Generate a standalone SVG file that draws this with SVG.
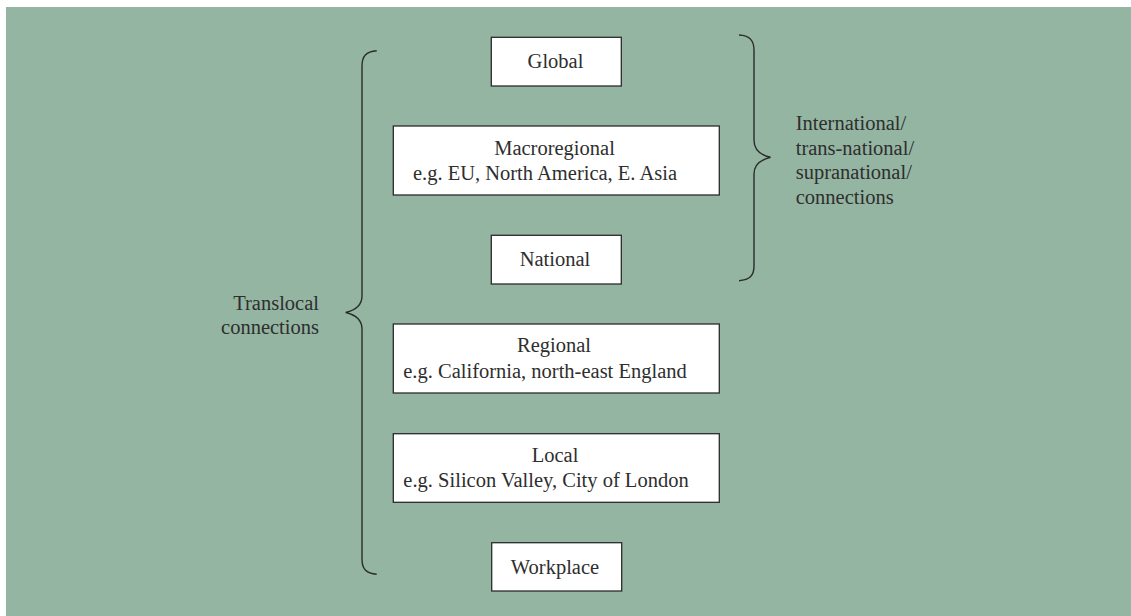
<svg xmlns="http://www.w3.org/2000/svg" width="1131" height="616" viewBox="0 0 1131 616">
<style>
.box{fill:#ffffff;stroke:#2b2b2b;stroke-width:1.3}
.t{font-family:"Liberation Serif","Times New Roman",serif;font-size:20.5px;fill:#2e2e2e}
.c{text-anchor:middle}
.brace{fill:none;stroke:#2b2b2b;stroke-width:1.4}
</style>
<rect x="0" y="0" width="1131" height="616" fill="#ffffff"/>
<rect x="6" y="7" width="1125" height="609" fill="#94b5a2"/>
<g id="connectors">
<path class="brace" d="M376.7,50.7 C366,51.5 362,56 362,66 L362,296 C362,305 356,310 345.7,312.5 C356,315 362,320 362,329 L362,559 C362,569 366,573.5 376.7,574.3"/>
<path class="brace" d="M739,35 C749.5,35.5 754,40 754,50 L754,140 C754,149 760,155 770.5,157.3 C760,160 754,165 754,174 L754,266 C754,276 749.5,280 739,280.7"/>
</g>
<g id="global">
<rect class="box" x="491.3" y="37.3" width="130" height="48.7"/>
<text class="t c" x="555.5" y="68">Global</text>
</g>
<g id="macroregional">
<rect class="box" x="393.3" y="126" width="326" height="69"/>
<text class="t c" x="554.5" y="155">Macroregional</text>
<text class="t c" x="545" y="179.5">e.g. EU, North America, E. Asia</text>
</g>
<g id="national">
<rect class="box" x="491.3" y="235.3" width="130" height="48.7"/>
<text class="t c" x="555" y="266">National</text>
</g>
<g id="regional">
<rect class="box" x="393.3" y="324" width="326" height="69"/>
<text class="t c" x="554" y="352.3">Regional</text>
<text class="t c" x="545" y="377.7">e.g. California, north-east England</text>
</g>
<g id="local">
<rect class="box" x="393.3" y="433.7" width="326" height="68.6"/>
<text class="t c" x="555" y="461.7">Local</text>
<text class="t c" x="546" y="486.7">e.g. Silicon Valley, City of London</text>
</g>
<g id="workplace">
<rect class="box" x="491.7" y="542.7" width="130" height="48.3"/>
<text class="t c" x="555" y="574.3">Workplace</text>
</g>
<g id="translocal-label">
<text class="t" x="319" y="310" text-anchor="end">Translocal</text>
<text class="t" x="319" y="334.3" text-anchor="end">connections</text>
</g>
<g id="international-label">
<text class="t" x="795.7" y="130">International/</text>
<text class="t" x="795.7" y="154.5">trans-national/</text>
<text class="t" x="795.7" y="179">supranational/</text>
<text class="t" x="795.7" y="203.5">connections</text>
</g>
</svg>
